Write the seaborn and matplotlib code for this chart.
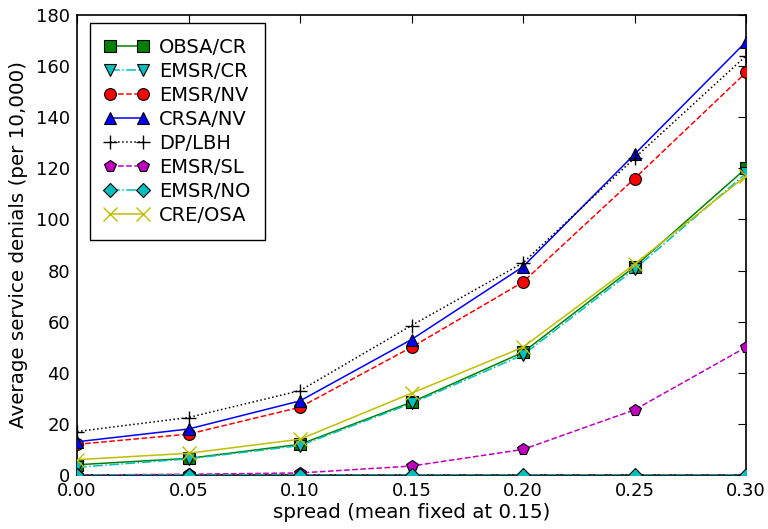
import matplotlib
matplotlib.use("Agg")
import matplotlib.pyplot as plt
import seaborn as sns
import pandas as pd

sns.set_style("white")
plt.rcParams['font.family'] = ['DejaVu Sans']
plt.rcParams['text.color'] = 'black'
plt.rcParams['axes.labelcolor'] = 'black'
plt.rcParams['xtick.color'] = 'black'
plt.rcParams['ytick.color'] = 'black'

spread = [0.00, 0.05, 0.10, 0.15, 0.20, 0.25, 0.30]
obsa_cr = [4.0, 6.5, 12.0, 28.5, 48.0, 81.5, 120.0]
emsr_cr = [3.0, 6.3, 11.5, 28.0, 47.0, 80.5, 118.0]
emsr_nv = [12.0, 16.0, 26.5, 50.0, 75.5, 116.0, 157.5]
crsa_nv = [13.0, 18.0, 29.0, 53.0, 81.5, 125.5, 169.5]
dp_lbh = [17.0, 22.5, 33.0, 58.5, 83.0, 124.0, 164.0]
emsr_sl = [0.0, 0.3, 0.8, 3.5, 10.0, 25.5, 50.0]
emsr_no = [0.0, 0.0, 0.0, 0.0, 0.0, 0.0, 0.0]
cre_osa = [6.0, 8.5, 14.0, 32.0, 50.0, 82.5, 117.0]

series = [
    ("OBSA/CR", obsa_cr, "green", "-", "s"),
    ("EMSR/CR", emsr_cr, "c", "-.", "v"),
    ("EMSR/NV", emsr_nv, "red", "--", "o"),
    ("CRSA/NV", crsa_nv, "blue", "-", "^"),
    ("DP/LBH", dp_lbh, "black", ":", "+"),
    ("EMSR/SL", emsr_sl, "m", "--", "p"),
    ("EMSR/NO", emsr_no, "c", "-.", "D"),
    ("CRE/OSA", cre_osa, "y", "-", "x"),
]

fig = plt.figure(figsize=(7.68, 5.29), dpi=100)
ax = fig.add_axes([77/768, 1-475/529, 669/768, 460/529])

for name, vals, col, ls, mk in series:
    df = pd.DataFrame({"spread": spread, "val": vals})
    ms = 8.5
    if mk == "D":
        ms = 7
    if mk in ("+", "x"):
        kw = dict(markeredgecolor=col, markeredgewidth=1.0)
        ms = 10
    else:
        kw = dict(markeredgecolor="black", markeredgewidth=0.8)
    sns.lineplot(data=df, x="spread", y="val", ax=ax, color=col, linestyle=ls,
                 marker=mk, markersize=ms, linewidth=1.1, label=name,
                 zorder=3, **kw)

ax.set_xlim(0, 0.30)
ax.set_ylim(0, 180)
ax.set_xticks(spread)
ax.set_xticklabels(["0.00", "0.05", "0.10", "0.15", "0.20", "0.25", "0.30"])
ax.set_yticks(range(0, 181, 20))
ax.tick_params(direction="in", top=True, right=True, length=6, width=0.8, labelsize=13, pad=5)
for s in ax.spines.values():
    s.set_linewidth(1.2)
    s.set_color("black")
ax.set_xlabel("spread (mean fixed at 0.15)", fontsize=14.3, labelpad=2)
ax.set_ylabel("Average service denials (per 10,000)", fontsize=14.3, labelpad=6)

leg = ax.legend(loc="upper left", numpoints=2, fontsize=14, frameon=True, fancybox=False,
                edgecolor="black", handlelength=2.3, labelspacing=0.26, handletextpad=0.5,
                borderpad=0.75, borderaxespad=0, bbox_to_anchor=(13/669, 1-8/460))
leg.get_frame().set_linewidth(1.0)
leg.get_frame().set_alpha(1)

fig.savefig("out.png", dpi=100, facecolor="white")
